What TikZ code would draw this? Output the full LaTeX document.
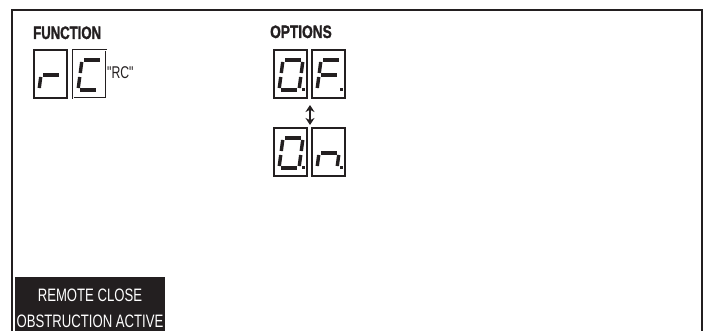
\documentclass[tikz,border=0pt]{standalone}
\usepackage{fontspec}
\usepackage{graphicx}
\newfontfamily\panelfont{Liberation Sans}
\newfontfamily\panelheavy[FakeBold=1.6]{Liberation Sans Bold}
\usepackage{xcolor}
\definecolor{LCDink}{HTML}{231F20}
\usepackage{tikz}
\usetikzlibrary{arrows.meta}

% seven segments, local units: box is 33 x 48, y downwards
\def\lcdsega{\draw[segline] (9,10) -- (29,10);}
\def\lcdsegb{\draw[segline] (29,10) -- (27,25);}
\def\lcdsegc{\draw[segline] (27,25) -- (25,40);}
\def\lcdsegd{\draw[segline] (5,40) -- (25,40);}
\def\lcdsege{\draw[segline] (7,25) -- (5,40);}
\def\lcdsegf{\draw[segline] (9,10) -- (7,25);}
\def\lcdsegg{\draw[segline] (7,25) -- (27,25);}

\begin{document}
\begin{tikzpicture}[x=1pt, y=-1pt]
    \tikzset{%
        frame/.style={draw=LCDink, line width=2.5},
        lcdbox/.style={draw=LCDink, line width=1.1, minimum width=33pt, minimum height=48pt, inner sep=0pt},
        lcdplain/.style={},
        lcdsel/.style={double=white, double distance=0.9pt, line width=0.8},
        segline/.style={draw=LCDink, line width=3.4, shorten >=2, shorten <=2},
        headfont/.style={font=\panelheavy\fontsize{18}{19}\selectfont, text=LCDink, inner sep=0pt},
        labelfont/.style={font=\panelfont\fontsize{17}{18}\selectfont, text=LCDink, inner sep=0pt},
        statusfont/.style={font=\panelfont\fontsize{18}{19}\selectfont, text=white, inner sep=0pt},
        toggle/.style={draw=LCDink, line width=2, {Stealth[length=7pt, width=9pt]}-{Stealth[length=7pt, width=9pt]}},
        pics/digit/.style args={#1/#2/#3}{code={%
                        \node[lcdbox, #3] (-box) at (16.5, 24) {};
                        \foreach \s in {#1} {%
                                \csname lcdseg\s\endcsname
                            };
                        \ifnum#2=1
                            \fill[LCDink] (27.5, 38) rectangle ++(3.4, 3.4);
                        \fi
                    }
            }
    }

    \useasboundingbox (0, 0) rectangle (705, 331);

    % outer frame, open at the bottom
    \draw[frame] (12, 331) -- (12, 10) -- (702, 10) -- (702, 331);

    % function
    \node[headfont, anchor=base west] (fnHead) at (33, 39) {\scalebox{.73}[1]{FUNCTION}};
    \pic (fnR) at (34, 50) {digit={e,g}/0/lcdplain};
    \pic (fnC) at (73, 50) {digit={a,d,e,f}/0/lcdsel};
    \node[labelfont, anchor=base west] (fnName) at (107, 79) {\scalebox{.72}[1]{"RC"}};

    % options
    \node[headfont, anchor=base west] (optHead) at (270, 38) {\scalebox{.76}[1]{OPTIONS}};
    \pic (optOffA) at (274, 50) {digit={a,b,c,d,e,f}/1/lcdplain};
    \pic (optOffB) at (312, 50) {digit={a,e,f,g}/1/lcdplain};
    \pic (optOnA) at (274, 128) {digit={a,b,c,d,e,f}/1/lcdplain};
    \pic (optOnB) at (312, 128) {digit={c,e,g}/1/lcdplain};

    \coordinate (swTop) at (310, 105);
    \coordinate (swBot) at (310, 125);
    \draw[toggle] (swTop) -- (swBot);

    % status bar
    \fill[LCDink] (15, 277) rectangle (165, 331);
    \node[statusfont, anchor=base] (statusA) at (90, 302) {\scalebox{.73}[1]{REMOTE CLOSE}};
    \node[statusfont, anchor=base] (statusB) at (90, 327.5) {\scalebox{.73}[1]{OBSTRUCTION ACTIVE}};
\end{tikzpicture}
\end{document}
